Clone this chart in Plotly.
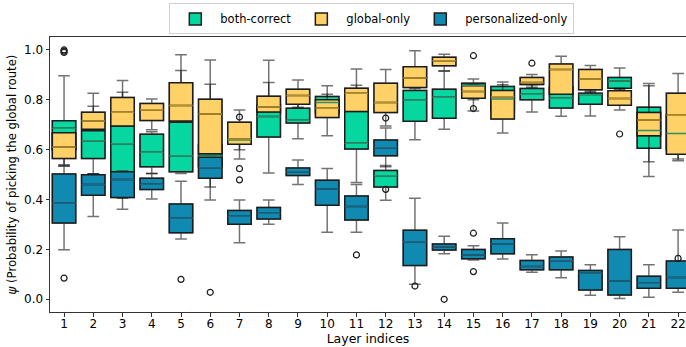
import plotly.graph_objects as go

layers = list(range(1, 23))
tick_labels = [str(i) for i in layers]
series_names = ["both-correct", "global-only", "personalized-only"]

# both-correct
bc_lo  = [0.535,0.504,0.405,0.505,0.505,0.450,0.600,0.507,0.644,0.735,0.468,0.397,0.640,0.682,0.800,0.740,0.751,0.734,0.735,0.840,0.492,0.563]
bc_q1  = [0.600,0.565,0.512,0.532,0.512,0.530,0.630,0.651,0.707,0.745,0.603,0.450,0.714,0.726,0.830,0.760,0.800,0.767,0.782,0.846,0.606,0.600]
bc_med = [0.686,0.636,0.624,0.590,0.576,0.575,0.639,0.733,0.718,0.789,0.626,0.495,0.798,0.810,0.858,0.803,0.822,0.806,0.821,0.876,0.677,0.665]
bc_q3  = [0.716,0.676,0.695,0.662,0.710,0.620,0.680,0.780,0.766,0.813,0.800,0.517,0.837,0.842,0.866,0.853,0.845,0.850,0.826,0.890,0.770,0.740]
bc_hi  = [0.897,0.774,0.830,0.672,0.918,0.862,0.700,0.870,0.800,0.856,0.858,0.537,0.845,0.916,0.884,0.872,0.860,0.900,0.835,0.928,0.865,0.800]
bc_out_layer = [1, 1, 1, 7, 7, 7, 15, 15, 22]
bc_out_value = [1.000, 0.995, 0.990, 0.731, 0.524, 0.479, 0.977, 0.765, 0.164]

# global-only
go_lo  = [0.540,0.682,0.695,0.680,0.715,0.584,0.563,0.751,0.770,0.656,0.753,0.695,0.849,0.916,0.755,0.667,0.850,0.822,0.830,0.759,0.552,0.556]
go_q1  = [0.565,0.682,0.695,0.717,0.715,0.584,0.622,0.751,0.782,0.729,0.753,0.749,0.849,0.937,0.806,0.723,0.861,0.822,0.840,0.778,0.656,0.582]
go_med = [0.611,0.715,0.750,0.760,0.777,0.743,0.643,0.771,0.817,0.766,0.826,0.789,0.888,0.957,0.833,0.812,0.870,0.922,0.884,0.805,0.719,0.738]
go_q3  = [0.668,0.750,0.809,0.785,0.868,0.802,0.710,0.814,0.842,0.800,0.846,0.866,0.933,0.971,0.856,0.837,0.890,0.944,0.922,0.836,0.749,0.826]
go_hi  = [0.668,0.826,0.878,0.803,0.981,0.960,0.759,0.959,0.880,0.822,0.924,0.922,0.997,0.983,0.860,0.860,0.902,0.975,0.938,0.845,0.856,0.906]
go_out_layer = [17, 20]
go_out_value = [0.947, 0.663]

# personalized-only
po_lo  = [0.199,0.332,0.361,0.402,0.242,0.398,0.227,0.301,0.460,0.269,0.269,0.532,0.060,0.183,0.158,0.162,0.108,0.086,0.016,0.003,0.008,0.028]
po_q1  = [0.306,0.417,0.408,0.440,0.267,0.485,0.301,0.322,0.496,0.377,0.318,0.576,0.136,0.198,0.163,0.183,0.118,0.118,0.037,0.017,0.044,0.044]
po_med = [0.385,0.460,0.480,0.461,0.325,0.528,0.333,0.345,0.512,0.442,0.372,0.608,0.231,0.210,0.178,0.222,0.131,0.155,0.104,0.073,0.064,0.087]
po_q3  = [0.503,0.499,0.512,0.485,0.382,0.570,0.356,0.368,0.527,0.477,0.414,0.639,0.277,0.222,0.200,0.243,0.156,0.170,0.115,0.200,0.092,0.154]
po_hi  = [0.535,0.504,0.515,0.505,0.473,0.575,0.398,0.398,0.559,0.525,0.460,0.687,0.405,0.253,0.215,0.306,0.179,0.194,0.139,0.251,0.139,0.278]
po_out_layer = [1, 5, 6, 11, 12, 12, 13, 14, 15, 15]
po_out_value = [0.085, 0.080, 0.028, 0.178, 0.727, 0.441, 0.053, 0.000, 0.265, 0.111]

y_tick_vals = [0.0, 0.2, 0.4, 0.6, 0.8, 1.0]
y_tick_text = ["0.0", "0.2", "0.4", "0.6", "0.8", "1.0"]

fill_colors = ["#06d6a0", "#ffd166", "#118ab2"]
median_colors = ["#2e8f68", "#b8902a", "#1d6683"]

groups = [
    (bc_lo, bc_q1, bc_med, bc_q3, bc_hi, bc_out_layer, bc_out_value),
    (go_lo, go_q1, go_med, go_q3, go_hi, go_out_layer, go_out_value),
    (po_lo, po_q1, po_med, po_q3, po_hi, po_out_layer, po_out_value),
]

BOX_W = 0.8
fig = go.Figure()

for gi, (lo, q1, med, q3, hi, ol, ov) in enumerate(groups):
    name = series_names[gi]
    # whiskers + caps (gray, semi-transparent)
    fig.add_trace(go.Box(
        x=layers, q1=q1, median=med, q3=q3, lowerfence=lo, upperfence=hi,
        width=BOX_W, whiskerwidth=0.5, boxpoints=False,
        fillcolor=fill_colors[gi], line=dict(color="rgba(0,0,0,0.55)", width=1.5),
        name=name, legendgroup=name, showlegend=False, hoverinfo="skip",
    ))
    # box body with dark edge
    fig.add_trace(go.Box(
        x=layers, q1=q1, median=med, q3=q3, lowerfence=q1, upperfence=q3,
        width=BOX_W, whiskerwidth=0, boxpoints=False,
        fillcolor=fill_colors[gi], line=dict(color="#1c1c1c", width=1.5),
        name=name, legendgroup=name, showlegend=True,
    ))
    # outliers
    fig.add_trace(go.Scatter(
        x=ol, y=ov, mode="markers",
        marker=dict(symbol="circle-open", size=6, color="#1c1c1c", line=dict(width=1.2)),
        legendgroup=name, showlegend=False, hoverinfo="skip",
    ))

# median lines on top of all boxes
for gi, (lo, q1, med, q3, hi, ol, ov) in enumerate(groups):
    fig.add_trace(go.Box(
        x=layers, q1=med, median=med, q3=med, lowerfence=med, upperfence=med,
        width=BOX_W, whiskerwidth=0, boxpoints=False,
        fillcolor="rgba(0,0,0,0)", line=dict(color=median_colors[gi], width=1.5),
        legendgroup=series_names[gi], showlegend=False, hoverinfo="skip",
    ))

fig.update_layout(
    width=686, height=347,
    margin=dict(l=50, r=0, t=37, b=35),
    boxmode="overlay",
    plot_bgcolor="white", paper_bgcolor="white",
    font=dict(family="DejaVu Sans", size=12, color="#000"),
    legend=dict(
        orientation="h", xref="container", yref="container",
        x=0.542, xanchor="center", y=0.99, yanchor="top",
        bordercolor="#d0d0d0", borderwidth=1, bgcolor="white",
        font=dict(size=11.5), traceorder="normal", itemwidth=40,
    ),
    xaxis=dict(
        range=[0.52, 22.27], tickmode="array", tickvals=layers, ticktext=tick_labels,
        showline=True, linecolor="#333", linewidth=1, mirror=True,
        ticks="outside", ticklen=3.5, tickcolor="#333", showgrid=False, zeroline=False,
        automargin=False, ticklabelstandoff=-3,
        title=dict(text="Layer indices", font=dict(size=12.5), standoff=1),
        tickfont=dict(size=12),
    ),
    yaxis=dict(
        range=[-0.051, 1.052], tickmode="array", tickvals=y_tick_vals, ticktext=y_tick_text,
        showline=True, linecolor="#333", linewidth=1,
        ticks="outside", ticklen=3.5, tickcolor="#333", showgrid=False, zeroline=False,
        automargin=False,
        title=dict(text="<i>ψ</i> (Probability of picking the global route)", font=dict(size=11.7), standoff=4),
        tickfont=dict(size=12),
    ),
)

fig.write_html("out.html", config={"displayModeBar": False},
               post_script="document.body.style.margin='0';")
